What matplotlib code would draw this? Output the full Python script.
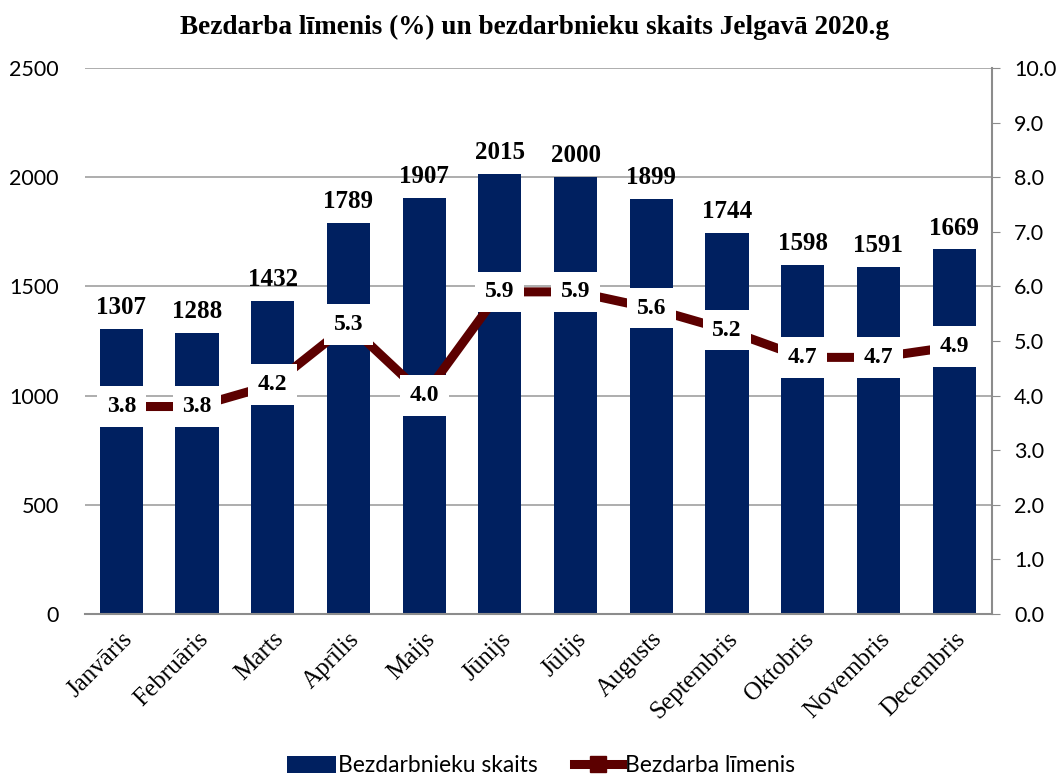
import numpy as np
import matplotlib.pyplot as plt

months = ["Janvāris", "Februāris", "Marts", "Aprīlis", "Maijs", "Jūnijs", "Jūlijs",
          "Augusts", "Septembris", "Oktobris", "Novembris", "Decembris"]
unemployed = [1307, 1288, 1432, 1789, 1907, 2015, 2000, 1899, 1744, 1598, 1591, 1669]
rate = [3.8, 3.8, 4.2, 5.3, 4.0, 5.9, 5.9, 5.6, 5.2, 4.7, 4.7, 4.9]

bar_col = "#002060"
line_col = "#5c0000"
serif = "Liberation Serif"
sans = "Lato"

fig = plt.figure(figsize=(10.63, 7.78), dpi=100)
ax = fig.add_axes([85/1063, 1-614/778, (992-85)/1063, (614-68)/778])
ax2 = ax.twinx()

x = np.arange(len(months))
ax.bar(x, unemployed, width=0.57, color=bar_col, label="Bezdarbnieku skaits", zorder=2)
for xi, v in zip(x, unemployed):
    ax.text(xi, v + 45, str(v), ha="center", va="bottom", fontsize=18,
            fontweight="bold", family=serif)

ax.set_ylim(0, 2500)
ax.set_yticks(range(0, 2501, 500))
ax.set_xlim(-0.48, 11.5)
ax.set_xticks(x)
ax.set_xticklabels(months, rotation=45, ha="right", rotation_mode="anchor",
                   family=serif, fontsize=18)
ax.grid(axis="y", color="#a0a0a0", lw=1.2, zorder=0)
ax.tick_params(axis="y", length=0, labelsize=15.5, pad=19)
ax.tick_params(axis="x", length=0, pad=10)
for lab in ax.get_yticklabels():
    lab.set_family(sans)
for s in ["top", "left", "right"]:
    ax.spines[s].set_visible(False)
ax.spines["bottom"].set_color("#8c8c8c")
ax.spines["bottom"].set_linewidth(1.5)

ax2.plot(x, rate, color=line_col, lw=6.5, marker="s", markersize=11,
         label="Bezdarba līmenis", zorder=3)
for xi, v in zip(x, rate):
    ax2.text(xi, v, f"{v:.1f}", ha="center", va="center", fontsize=17,
             fontweight="bold", family=serif, zorder=4,
             bbox=dict(facecolor="white", edgecolor="none", pad=7))
ax2.set_ylim(0, 10)
ax2.set_yticks(np.arange(0, 10.1, 1))
ax2.set_yticklabels([f"{t:.1f}" for t in np.arange(0, 10.1, 1)], family=sans)
ax2.tick_params(axis="y", length=6, color="#8c8c8c", labelsize=15.5, pad=10)
for s in ["top", "left", "bottom"]:
    ax2.spines[s].set_visible(False)
ax2.spines["right"].set_color("#8c8c8c")
ax2.spines["right"].set_linewidth(1.5)

fig.text(535/1063, 1-27/778, "Bezdarba līmenis (%) un bezdarbnieku skaits Jelgavā 2020.g",
         ha="center", va="center", fontsize=19.6, fontweight="bold", family=serif)

h1, l1 = ax.get_legend_handles_labels()
h2, l2 = ax2.get_legend_handles_labels()
fig.legend(h1 + h2, l1 + l2, loc="center", bbox_to_anchor=(541/1063, 1-766/778),
           ncol=2, frameon=False, prop={"family": sans, "size": 16.5},
           handlelength=2.1, handletextpad=0.1, columnspacing=1.6)

fig.savefig("out.png", dpi=100)
